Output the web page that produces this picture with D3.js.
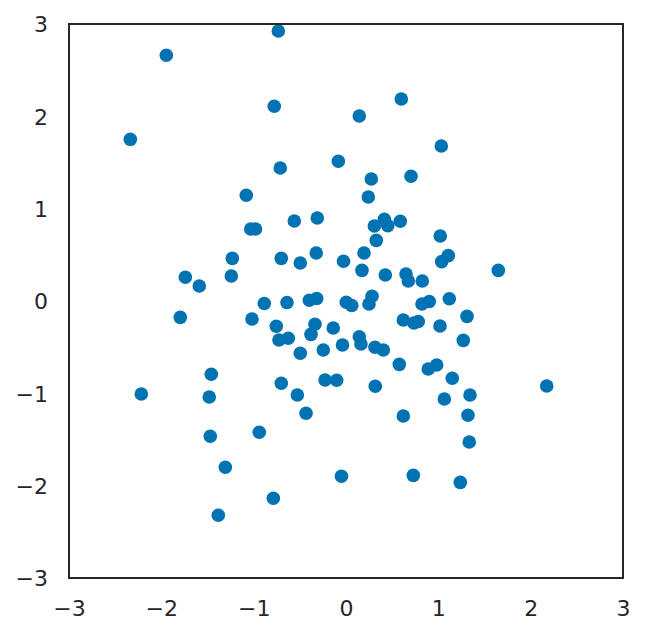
<!DOCTYPE html>
<html>
<head>
<meta charset="utf-8">
<script src="https://cdn.jsdelivr.net/npm/d3@7"></script>
<style>
  html, body { margin: 0; padding: 0; background: #fff; }
  svg { display: block; }
  text { font-family: "DejaVu Sans", sans-serif; }
</style>
</head>
<body>
<svg id="chart" width="645" height="636"></svg>
<script>
const xValues = [
  -0.733, -1.946, -2.336, -0.777, 0.144, 0.599, 1.032, -0.712, -0.083, 0.704,
  0.274, -1.080, 0.242, -1.032, -0.980, -0.560, -0.311, 0.415, 0.452, 0.307,
  0.588, 0.328, 1.021, -1.231, -0.701, -0.322, -0.495, -0.027, 0.195, 1.108,
  1.036, 1.650, -1.740, -1.242, 0.173, 0.426, 0.650, 0.675, 0.826, -1.589,
  -1.795, -0.885, -0.639, -0.397, -0.317, 0.003, 0.062, 0.249, 0.282, 0.823,
  0.902, 1.119, -1.018, -0.755, -0.625, -0.726, -0.336, -0.379, -0.138, -0.495,
  -0.246, -0.038, 0.144, 0.162, 0.314, 0.404, 0.577, 0.621, 0.736, 0.783,
  1.018, 1.311, 1.270, -1.459, -2.217, -1.481, -0.701, -0.227, -0.101, -0.527,
  -0.433, -0.939, -1.470, -1.307, -1.383, -0.787, -0.049, 0.317, 0.621, 0.891,
  0.982, 1.151, 1.343, 1.065, 1.321, 1.335, 0.729, 1.238, 2.174
];
const yValues = [
  2.924, 2.661, 1.751, 2.109, 2.004, 2.188, 1.679, 1.440, 1.513, 1.351,
  1.321, 1.145, 1.126, 0.780, 0.780, 0.866, 0.899, 0.885, 0.816, 0.812,
  0.863, 0.657, 0.704, 0.462, 0.462, 0.520, 0.412, 0.431, 0.520, 0.491,
  0.426, 0.332, 0.257, 0.271, 0.332, 0.282, 0.292, 0.217, 0.217, 0.162,
  -0.177, -0.027, -0.016, 0.008, 0.027, -0.014, -0.049, -0.032, 0.052, -0.032,
  -0.005, 0.025, -0.195, -0.274, -0.404, -0.422, -0.252, -0.361, -0.292, -0.566,
  -0.531, -0.477, -0.387, -0.466, -0.501, -0.531, -0.686, -0.206, -0.238, -0.222,
  -0.271, -0.166, -0.426, -0.794, -1.007, -1.040, -0.891, -0.856, -0.859, -1.018,
  -1.216, -1.422, -1.465, -1.801, -2.321, -2.137, -1.898, -0.924, -1.246, -0.736,
  -0.693, -0.837, -1.018, -1.061, -1.238, -1.527, -1.888, -1.964, -0.921
];
const xTicks = [-3, -2, -1, 0, 1, 2, 3];
const yTicks = [-3, -2, -1, 0, 1, 2, 3];

const points = xValues.map((x, i) => ({ x, y: yValues[i] }));

const svg = d3.select("#chart");
const mLeft = 69, mRight = 623, mTop = 24, mBottom = 578;

const xScale = d3.scaleLinear().domain([-3, 3]).range([mLeft, mRight]);
const yScale = d3.scaleLinear().domain([-3, 3]).range([mBottom, mTop]);

const fmt = d => d < 0 ? "\u2212" + Math.abs(d) : String(d);

// points
svg.append("g")
  .selectAll("circle")
  .data(points)
  .join("circle")
  .attr("cx", d => xScale(d.x))
  .attr("cy", d => yScale(d.y))
  .attr("r", 6.8)
  .attr("fill", "#0173b2");

// axes
const xAxis = svg.append("g")
  .attr("transform", `translate(0,${mBottom})`)
  .call(d3.axisBottom(xScale).tickValues(xTicks).tickFormat(fmt).tickSize(0).tickPadding(0));
xAxis.select(".domain").remove();
xAxis.selectAll("text")
  .attr("y", 38)
  .attr("dy", null)
  .attr("fill", "#262626")
  .style("font-size", "22px")
  .style("font-family", "DejaVu Sans, sans-serif");

const yAxis = svg.append("g")
  .attr("transform", `translate(${mLeft},0)`)
  .call(d3.axisLeft(yScale).tickValues(yTicks).tickFormat(fmt).tickSize(0).tickPadding(0));
yAxis.select(".domain").remove();
yAxis.selectAll("text")
  .attr("x", -21)
  .attr("dy", "0.36em")
  .attr("fill", "#262626")
  .style("font-size", "22px")
  .style("font-family", "DejaVu Sans, sans-serif");

// frame
svg.append("rect")
  .attr("x", mLeft)
  .attr("y", mTop)
  .attr("width", mRight - mLeft)
  .attr("height", mBottom - mTop)
  .attr("fill", "none")
  .attr("stroke", "#262626")
  .attr("stroke-width", 2);
</script>
</body>
</html>
